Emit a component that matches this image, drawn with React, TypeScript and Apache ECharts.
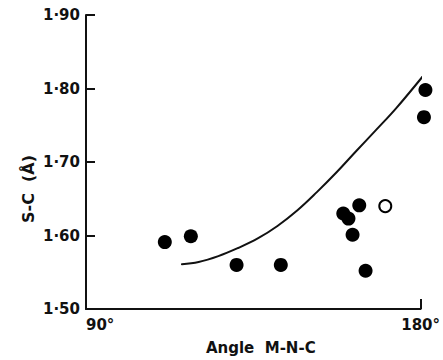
import React, { useEffect, useRef } from "react";
import * as echarts from "echarts";

// Filled points: angle M-N-C (deg) and S-C length (Å)
const filledAngles = [111.2, 118.2, 130.5, 142.4, 159.2, 160.6, 163.5, 161.7, 165.2, 180.9, 181.3];
const filledLengths = [1.591, 1.599, 1.56, 1.56, 1.63, 1.623, 1.641, 1.601, 1.552, 1.761, 1.798];

// Open point
const openAngles = [170.5];
const openLengths = [1.64];

// Curve
const curveAngles = [115.8, 120.3, 125.6, 130.9, 136.2, 141.5, 146.8, 152.1, 157.4, 162.7, 168.1, 173.4, 180.5];
const curveLengths = [1.561, 1.564, 1.572, 1.583, 1.596, 1.613, 1.634, 1.659, 1.686, 1.715, 1.744, 1.773, 1.816];

const xTicks = [90, 180];
const yTicks = [1.5, 1.6, 1.7, 1.8, 1.9];

const FONT = "DejaVu Sans";
const INK = "#111";

export default function App() {
  const ref = useRef<HTMLDivElement>(null);
  useEffect(() => {
    if (!ref.current) return;
    const chart = echarts.init(ref.current, undefined, { renderer: "svg" });
    const zip = (a: number[], b: number[]) => a.map((v, i) => [v, b[i]]);
    chart.setOption({
      animation: false,
      backgroundColor: "#fff",
      grid: { left: 86, right: 18, top: 15, bottom: 47, containLabel: false },
      xAxis: {
        type: "value",
        min: xTicks[0],
        max: xTicks[xTicks.length - 1],
        interval: xTicks[1] - xTicks[0],
        axisLine: { show: true, lineStyle: { color: INK, width: 2 } },
        axisTick: { show: true, inside: true, length: 10, lineStyle: { color: INK, width: 2 } },
        splitLine: { show: false },
        axisLabel: {
          formatter: (v: number) => `${v}°`,
          color: INK,
          fontFamily: FONT,
          fontSize: 15,
          fontWeight: "bold",
          margin: 8,
          alignMinLabel: "left",
          alignMaxLabel: "center",
        },
        name: "Angle  M-N-C",
        nameLocation: "middle",
        nameGap: 31,
        nameTextStyle: { color: INK, fontFamily: FONT, fontSize: 15, fontWeight: "bold", padding: [0, 0, 0, 15] },
      },
      yAxis: {
        type: "value",
        min: yTicks[0],
        max: yTicks[yTicks.length - 1],
        interval: 0.1,
        axisLine: { show: true, lineStyle: { color: INK, width: 2 } },
        axisTick: { show: true, inside: true, length: 9, lineStyle: { color: INK, width: 2 } },
        splitLine: { show: false },
        axisLabel: {
          formatter: (v: number) => v.toFixed(2).replace(".", "·"),
          color: INK,
          fontFamily: FONT,
          fontSize: 15,
          fontWeight: "bold",
          margin: 6,
        },
      },
      graphic: [
        {
          type: "text",
          x: 28,
          y: 189,
          rotation: Math.PI / 2,
          style: {
            text: "S-C  (Å)",
            fill: INK,
            font: `bold 16px '${FONT}'`,
            textAlign: "center",
            textVerticalAlign: "middle",
          },
        },
      ],
      series: [
        {
          type: "line",
          data: zip(curveAngles, curveLengths),
          smooth: 0.4,
          symbol: "none",
          lineStyle: { color: INK, width: 2, join: "round", cap: "round" },
          clip: false,
        },
        {
          type: "scatter",
          data: zip(filledAngles, filledLengths),
          symbol: "circle",
          symbolSize: 14,
          itemStyle: { color: "#000", opacity: 1 },
          clip: false,
        },
        {
          type: "scatter",
          data: zip(openAngles, openLengths),
          symbol: "circle",
          symbolSize: 12,
          itemStyle: { color: "#fff", borderColor: "#000", borderWidth: 2, opacity: 1 },
          clip: false,
        },
      ],
    });
    return () => chart.dispose();
  }, []);
  return (
    <div
      ref={ref}
      style={{ position: "fixed", left: 0, top: 0, width: 443, height: 360, background: "#fff" }}
    />
  );
}
